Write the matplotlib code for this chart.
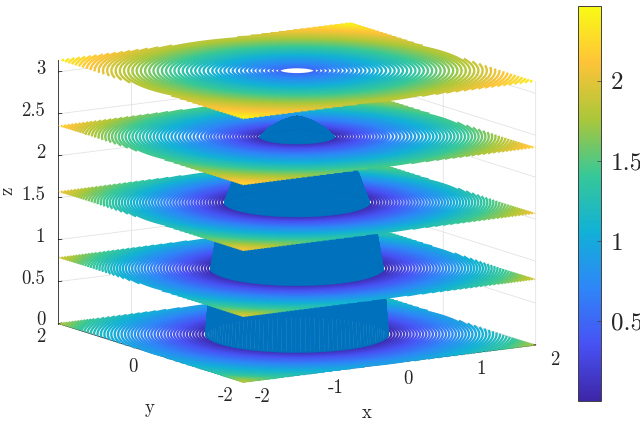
import numpy as np
import matplotlib
matplotlib.use('Agg')
import matplotlib.pyplot as plt
from matplotlib.cm import ScalarMappable
from matplotlib.colors import LinearSegmentedColormap, Normalize

plt.rcParams['font.family'] = ['cmr10', 'DejaVu Serif']
plt.rcParams['axes.formatter.use_mathtext'] = True

slice_z = [0, 0.785, 1.571, 2.356, 3.142]
ring_radius = [0.2, 0.43, 0.84, 1.0, 1.06, 1.5, 2.0, 2.5, 2.83]
slice_values = [
    [0.0, 0.0, 0.0, 0.0, 0.04, 0.46, 0.92, 1.36, 1.80],
    [0.0, 0.0, 0.0, 0.04, 0.10, 0.52, 1.00, 1.52, 1.95],
    [0.0, 0.0, 0.04, 0.20, 0.26, 0.70, 1.20, 1.70, 2.08],
    [0.0, 0.04, 0.45, 0.60, 0.66, 1.02, 1.45, 1.90, 2.25],
    [0.52, 0.68, 0.98, 1.10, 1.14, 1.46, 1.82, 2.18, 2.42],
]

# profile of the solid
blob_z = [0, 0.785, 1.2, 1.571, 1.9, 2.2, 2.356, 2.45, 2.53, 2.58, 2.6]
blob_r = [1.06, 1.0, 0.93, 0.84, 0.72, 0.53, 0.43, 0.33, 0.2, 0.08, 0.0]
blob_color = '#0072BD'

x_ticks = [-2, -1, 0, 1, 2]
y_ticks = [-2, 0, 2]
z_ticks = [0, 0.5, 1, 1.5, 2, 2.5, 3]
z_ticklabels = ['0', '0.5', '1', '1.5', '2', '2.5', '3']
cbar_ticks = [0.5, 1, 1.5, 2]
cbar_ticklabels = ['0.5', '1', '1.5', '2']
c_min, c_max = 0.006, 2.47

parula = LinearSegmentedColormap.from_list('parula', [
    (0.2422, 0.1504, 0.6603), (0.2810, 0.3228, 0.9578), (0.1786, 0.5289, 0.9682),
    (0.0689, 0.6948, 0.8394), (0.2161, 0.7843, 0.5923), (0.6720, 0.7793, 0.2227),
    (0.9970, 0.7659, 0.2199), (0.9769, 0.9839, 0.0805)])


def main():
    fig = plt.figure(figsize=(6.4, 4.24), dpi=100)
    W, H = 640, 424
    ax = fig.add_axes([18.7 / W, -56.8 / H, 542 / W, 542 / H], projection='3d', computed_zorder=False)
    ax.set_proj_type('ortho')
    ax.view_init(elev=11.5, azim=-122.3)
    ax.set_box_aspect((4, 4, 3.11))
    ax.patch.set_alpha(0)

    xs = np.linspace(-2, 2, 401)
    X, Y = np.meshgrid(xs, xs)
    R = np.hypot(X, Y)
    levels = np.arange(0.035, 2.47, 0.035)
    norm = Normalize(c_min, c_max)

    for i, z in enumerate(slice_z):
        field = np.interp(R, ring_radius, slice_values[i])
        cs = ax.contour(X, Y, field, levels=levels, zdir='z', offset=z, cmap=parula, norm=norm,
                        linewidths=1.7)
        cs.set_zorder(10 + 2 * i)
        if i < len(slice_z) - 1:
            part = [k for k, b in enumerate(blob_z) if z <= b <= slice_z[i + 1]]
            th = np.linspace(0, 2 * np.pi, 121)
            T, K = np.meshgrid(th, part)
            rr = np.array(blob_r)[K]
            zz = np.array(blob_z)[K]
            surf = ax.plot_surface(rr * np.cos(T), rr * np.sin(T), zz, color=blob_color, shade=False,
                                   linewidth=0.3, edgecolor=blob_color, rstride=1, cstride=1)
            surf.set_zorder(11 + 2 * i)

    ax.set_xlim(-2, 2, view_margin=0)
    ax.set_ylim(-2, 2, view_margin=0)
    ax.set_zlim(0, 3.142, view_margin=0)
    ax.set_xticks(x_ticks)
    ax.set_xticklabels([])
    ax.set_yticks(y_ticks)
    ax.set_yticklabels([])
    ax.set_zticks(z_ticks)
    ax.set_zticklabels([])

    for axis in (ax.xaxis, ax.yaxis, ax.zaxis):
        axis.set_pane_color((1, 1, 1, 0))
        axis.pane.set_edgecolor((0.88, 0.88, 0.88))
        axis.line.set_color((0.25, 0.25, 0.25))
        axis.line.set_linewidth(0.7)
        axis._axinfo['grid'].update(color=(0.89, 0.89, 0.89), linewidth=0.6)
        axis._axinfo['tick'].update(inward_factor=0.0, outward_factor=0.15, linewidth={True: 0.5, False: 0.5})
        axis._axinfo['tick']['color'] = (0.25, 0.25, 0.25)

    # tick labels sit further from the box than the 3d axis puts them
    txt = dict(fontsize=13.5, color='#262626', zorder=40)
    for t in x_ticks:
        ax.text(t, -2.41, -0.11, str(t), ha='center', va='center', **txt)
    for t in y_ticks:
        ax.text(-2.245, t, -0.139, str(t), ha='center', va='center', **txt)
    for t, s in zip(z_ticks, z_ticklabels):
        ax.text(-2.18, 2, t + 0.056, s, ha='right', va='center', **txt)

    fig.text(367 / W, 1 - 413 / H, 'x', fontsize=13.5, ha='center', va='center', color='#262626')
    fig.text(150 / W, 1 - 408 / H, 'y', fontsize=13.5, ha='center', va='center', color='#262626')
    fig.text(7 / W, 1 - 191 / H, 'z', fontsize=13.5, ha='center', va='center', rotation=90, color='#262626')

    cax = fig.add_axes([578 / W, 1 - 400.5 / H, 23 / W, 395 / H])
    cbar = fig.colorbar(ScalarMappable(norm=norm, cmap=parula), cax=cax)
    cbar.set_ticks(cbar_ticks, labels=cbar_ticklabels)
    cbar.ax.tick_params(direction='in', length=3, width=0.5, labelsize=18, pad=7, color='#404040', labelcolor='#262626')
    cbar.outline.set_edgecolor('#404040')
    cbar.outline.set_linewidth(0.7)

    fig.savefig('out.png', dpi=100)


if __name__ == '__main__':
    main()
